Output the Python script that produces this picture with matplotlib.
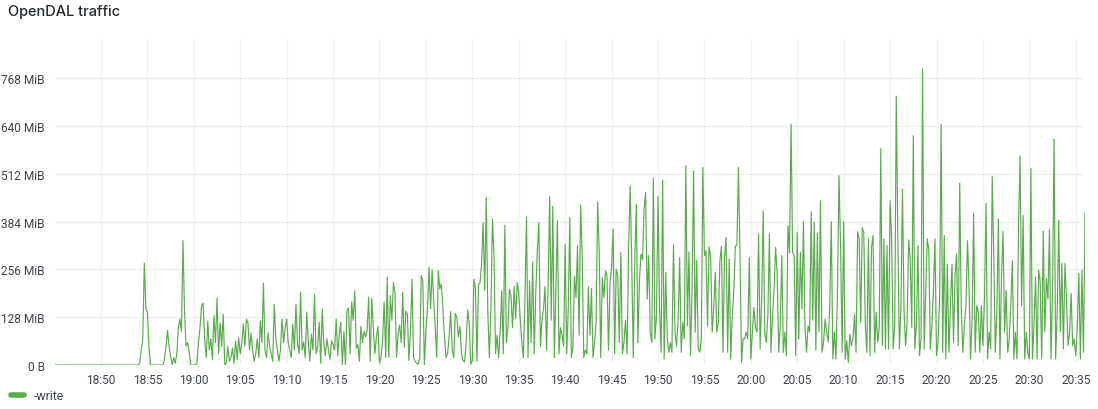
import pandas as pd
import matplotlib
matplotlib.use('Agg')
import matplotlib.pyplot as plt
import matplotlib.dates as mdates
from matplotlib.lines import Line2D
from matplotlib.ticker import FuncFormatter

plt.rcParams['font.family'] = ['Roboto', 'DejaVu Sans']

# write throughput in MiB, one sample every 10 s starting 18:45:00
write_mib = [
    0, 0, 0, 0, 0, 0, 0, 0, 0, 0,
    0, 0, 0, 0, 0, 0, 0, 0, 0, 0,
    0, 0, 0, 0, 0, 0, 0, 0, 0, 0,
    0, 0, 0, 0, 0, 0, 0, 0, 0, 0,
    0, 0, 0, 0, 0, 0, 0, 0, 0, 0,
    0, 0, 0, 0, 0, 5, 40, 70, 273, 150,
    142, 50, 0, 0, 0, 0, 0, 0, 0, 0,
    0, 15, 50, 92, 50, 25, 0, 20, 5, 30,
    100, 123, 90, 333, 142, 50, 60, 35, 0, 0,
    0, 0, 5, 60, 100, 159, 166, 70, 20, 118,
    40, 70, 15, 132, 60, 179, 30, 113, 50, 136,
    0, 5, 50, 10, 20, 45, 5, 65, 15, 73,
    30, 60, 110, 50, 123, 113, 40, 86, 40, 10,
    30, 70, 20, 118, 60, 219, 40, 20, 86, 50,
    30, 10, 163, 70, 40, 10, 40, 123, 60, 100,
    123, 60, 40, 20, 110, 40, 163, 60, 30, 195,
    40, 62, 20, 142, 60, 10, 83, 40, 190, 30,
    50, 115, 5, 150, 60, 25, 70, 40, 15, 65,
    55, 40, 123, 25, 80, 115, 0, 90, 0, 145,
    153, 30, 169, 120, 199, 45, 55, 10, 103, 60,
    90, 75, 93, 182, 10, 178, 100, 30, 75, 103,
    5, 20, 66, 169, 20, 235, 20, 186, 120, 221,
    195, 20, 84, 107, 60, 195, 48, 145, 136, 12,
    90, 230, 20, 10, 5, 2, 20, 239, 225, 0,
    93, 150, 262, 150, 255, 180, 103, 20, 253, 204,
    217, 150, 75, 20, 30, 75, 143, 40, 20, 138,
    128, 75, 103, 30, 12, 8, 60, 148, 110, 2,
    12, 230, 203, 10, 214, 221, 275, 382, 200, 449,
    142, 20, 150, 391, 293, 30, 80, 20, 90, 199,
    30, 375, 60, 100, 203, 185, 100, 210, 125, 221,
    193, 120, 60, 20, 177, 395, 20, 225, 60, 275,
    30, 193, 306, 382, 50, 120, 150, 210, 40, 217,
    451, 120, 425, 20, 203, 386, 30, 100, 80, 50,
    324, 30, 150, 395, 20, 50, 238, 180, 320, 80,
    428, 293, 20, 40, 30, 210, 80, 205, 20, 60,
    115, 437, 303, 20, 234, 180, 252, 240, 40, 221,
    261, 364, 30, 257, 240, 60, 301, 30, 60, 120,
    30, 309, 480, 282, 20, 282, 431, 60, 225, 297,
    282, 418, 462, 177, 293, 88, 60, 500, 70, 132,
    452, 150, 34, 495, 16, 248, 70, 34, 60, 34,
    322, 88, 50, 120, 288, 34, 114, 70, 534, 105,
    303, 25, 200, 520, 88, 280, 43, 34, 70, 529,
    293, 306, 105, 318, 293, 88, 150, 248, 88, 114,
    280, 318, 34, 288, 342, 34, 284, 16, 132, 200,
    318, 322, 529, 293, 7, 70, 70, 88, 70, 288,
    16, 88, 154, 100, 88, 351, 43, 177, 413, 88,
    60, 132, 351, 34, 132, 200, 315, 248, 34, 105,
    293, 34, 88, 25, 373, 300, 645, 302, 293, 25,
    355, 70, 302, 150, 384, 100, 34, 105, 88, 410,
    120, 382, 40, 352, 90, 440, 34, 60, 123, 88,
    61, 154, 384, 16, 88, 16, 200, 507, 317, 34,
    384, 16, 65, 7, 83, 52, 70, 136, 34, 357,
    338, 114, 368, 355, 105, 34, 338, 25, 316, 347,
    34, 141, 61, 100, 580, 52, 337, 43, 320, 43,
    440, 338, 43, 105, 720, 347, 43, 150, 471, 150,
    52, 114, 335, 284, 100, 614, 43, 105, 320, 25,
    70, 793, 43, 195, 338, 310, 43, 105, 200, 338,
    25, 61, 177, 645, 34, 347, 16, 270, 34, 159,
    270, 61, 239, 297, 52, 487, 150, 34, 105, 159,
    333, 212, 16, 123, 406, 34, 159, 141, 34, 159,
    52, 177, 433, 16, 88, 43, 505, 302, 34, 141,
    391, 16, 236, 358, 88, 200, 34, 70, 159, 278,
    16, 88, 16, 369, 560, 159, 400, 16, 88, 34,
    16, 527, 16, 105, 236, 16, 254, 223, 16, 359,
    88, 232, 177, 363, 16, 200, 605, 16, 141, 387,
    88, 272, 43, 272, 177, 52, 88, 192, 52, 70,
    25, 100, 245, 16, 254, 34, 409,
]
start_time = '2023-06-01 18:45:00'
series_name = '-write'
y_ticks = [0, 128, 256, 384, 512, 640, 768]

times = pd.date_range(start_time, periods=len(write_mib), freq='10s')
tick_times = pd.date_range('2023-06-01 18:50', '2023-06-01 20:35', freq='5min')

line_color = '#5AAB4E'
text_color = '#3d434b'
grid_color = '#f0f0f2'

fig = plt.figure(figsize=(10.98, 4.10), dpi=100)
ax = fig.add_axes([0.0497, 0.1073, 0.9385, 0.795])

ax.plot(times, write_mib, color=line_color, lw=0.85)

ax.set_xlim(times[0], times[-1])
ax.set_ylim(0, 873)
ax.set_yticks(y_ticks)
ax.yaxis.set_major_formatter(FuncFormatter(lambda v, p: '0 B' if v == 0 else '%d MiB' % v))
ax.set_xticks(tick_times)
ax.xaxis.set_major_formatter(mdates.DateFormatter('%H:%M'))

ax.grid(True, color=grid_color, lw=1)
ax.set_axisbelow(True)
for s in ax.spines.values():
    s.set_visible(False)
ax.tick_params(length=0, labelsize=8.6, colors=text_color, pad=6)
ax.tick_params(axis='y', pad=7)

fig.text(0.0075, 1 - 12 / 410, 'OpenDAL traffic', fontsize=10.5, fontweight='medium',
         color='#24292e', va='center', ha='left', family=['Inter', 'DejaVu Sans'])

handle = Line2D([0], [0], color=line_color, lw=4, solid_capstyle='round')
fig.legend([handle], [series_name], loc='center left', bbox_to_anchor=(0.006, 13 / 410),
           frameon=False, handlelength=1.0, handletextpad=0.8, borderaxespad=0,
           fontsize=8.8, labelcolor=text_color)

fig.savefig('out.png', dpi=100)
